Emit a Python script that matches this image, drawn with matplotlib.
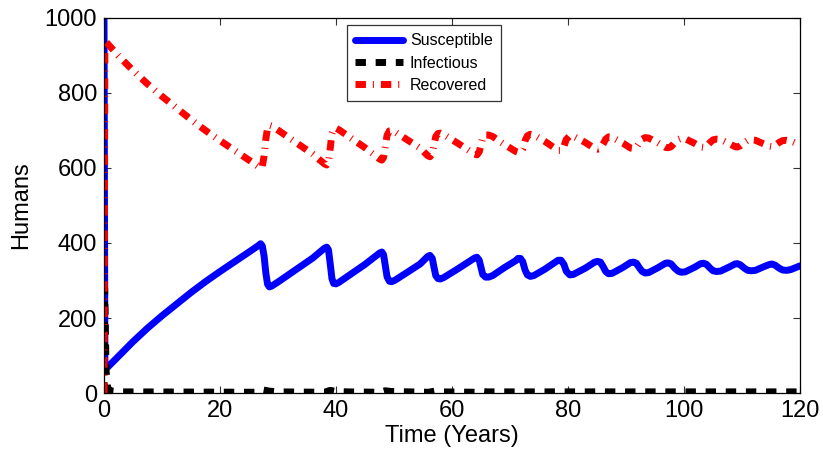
import matplotlib.pyplot as plt

plt.rcParams['font.family'] = ['Liberation Sans', 'DejaVu Sans']

# time grid (years) shared by Susceptible and Recovered
t_sr = [0, 0.15, 0.7, 2.5, 5, 7.5, 10, 12.5, 15, 17.5, 20, 22.5, 25, 26.6, 27.0, 27.3, 27.6, 27.9, 28.2, 28.5, 28.9, 30, 33, 36,
        38.0, 38.4, 38.7, 39.0, 39.3, 39.6, 40.0, 40.5, 42, 45,
        47.5, 47.9, 48.2, 48.5, 48.8, 49.2, 49.6, 50.2, 52, 54.5,
        55.8, 56.2, 56.6, 56.9, 57.2, 57.6, 58.0, 58.6, 61, 63,
        63.9, 64.3, 64.7, 65.0, 65.3, 65.8, 66.3, 67, 69, 71,
        71.4, 71.8, 72.2, 72.6, 73.0, 73.5, 74.1, 76, 78,
        78.3, 78.8, 79.3, 79.7, 80.3, 80.9, 83, 84.6,
        85.1, 85.6, 86.1, 86.5, 87.0, 87.6, 89.5, 90.8,
        91.3, 91.8, 92.3, 92.8, 93.3, 93.9, 95.5, 96.8,
        97.3, 97.8, 98.4, 99.0, 99.5, 100.2, 101.8, 102.9,
        103.4, 103.9, 104.5, 105.0, 105.6, 106.3, 107.8, 108.8,
        109.2, 109.7, 110.4, 111.0, 111.6, 112.3, 113.8, 114.8,
        115.2, 115.7, 116.4, 117.0, 117.7, 118.4, 120]

susceptible = [1000, 62, 70, 98, 137, 173, 206, 237, 268, 297, 324, 350, 376, 393, 398, 392, 365, 320, 290, 283, 285, 296, 328, 360,
               386, 389, 382, 345, 305, 292, 291, 295, 311, 343,
               373, 376, 369, 340, 310, 298, 297, 301, 319, 344,
               364, 367, 359, 335, 313, 305, 304, 308, 331, 351,
               360, 362, 354, 335, 316, 309, 309, 313, 334, 353,
               359, 359, 350, 328, 315, 311, 313, 330, 351,
               354, 354, 343, 325, 315, 316, 333, 349,
               351, 349, 336, 324, 318, 319, 335, 348,
               349, 346, 334, 324, 320, 321, 334, 346,
               347, 344, 333, 325, 322, 323, 335, 345,
               346, 343, 333, 326, 324, 325, 336, 344,
               345, 342, 333, 327, 326, 327, 337, 343,
               344, 341, 333, 328, 327, 329, 339]

recovered = [0, 940, 930, 899, 860, 824, 791, 760, 729, 700, 673, 647, 621, 604, 599, 605, 632, 677, 707, 714, 712, 701, 669, 637,
             611, 608, 615, 652, 692, 705, 706, 702, 686, 654,
             624, 621, 628, 657, 687, 699, 700, 696, 678, 653,
             633, 630, 638, 662, 684, 692, 693, 689, 666, 646,
             637, 635, 643, 662, 681, 688, 688, 684, 663, 644,
             642, 642, 651, 673, 686, 690, 688, 671, 650,
             647, 647, 658, 676, 686, 685, 668, 652,
             650, 652, 665, 677, 683, 682, 666, 653,
             652, 655, 667, 677, 681, 680, 667, 655,
             654, 657, 668, 676, 679, 678, 666, 656,
             655, 658, 668, 675, 677, 676, 665, 657,
             656, 659, 668, 674, 675, 674, 664, 658,
             657, 660, 668, 673, 674, 672, 662]

t_inf = [0, 0.05, 0.1, 0.2, 0.35, 0.6, 1.0, 3, 26.5, 27.5, 28.5, 30, 38, 39, 40, 42,
         47.5, 48.5, 49.5, 56, 57, 58, 64, 65, 66, 120]
infectious = [1, 150, 280, 200, 60, 15, 6, 3, 2, 8, 5, 3, 2, 7, 4, 3,
              2, 6, 4, 2, 5, 3, 2, 5, 3, 3]

fig = plt.figure(figsize=(8.23, 4.51), dpi=100)
ax = fig.add_axes([0.1264, 0.1286, 0.8456, 0.8315])

ax.plot(t_sr, susceptible, color='#0000ff', lw=5, solid_joinstyle='round',
        solid_capstyle='round', label='Susceptible')
ax.plot(t_inf, infectious, color='black', lw=5, dashes=(1.5, 1.4),
        label='Infectious')
ax.plot(t_sr, recovered, color='#ff0000', lw=5, dashes=(1.5, 1.0, 0.15, 1.0),
        label='Recovered')

ax.set_xlim(0, 120)
ax.set_ylim(0, 1000)
ax.set_xticks(range(0, 121, 20))
ax.set_yticks(range(0, 1001, 200))
ax.tick_params(direction='in', length=5, width=0.8, top=True, right=True,
               labelsize=17, pad=5, color='#333333')
for s in ax.spines.values():
    s.set_linewidth(0.9)

ax.set_xlabel('Time (Years)', fontsize=17, labelpad=2)
ax.set_ylabel('Humans', fontsize=17, labelpad=9)

leg = ax.legend(loc='upper left', bbox_to_anchor=(0.349, 0.98), fontsize=11.5,
                frameon=True, fancybox=False, handlelength=3.0, labelspacing=0.45,
                borderpad=0.5, handletextpad=0.45, borderaxespad=0)
leg.get_frame().set_edgecolor('black')
leg.get_frame().set_linewidth(0.9)

plt.savefig('out.png', dpi=100)
